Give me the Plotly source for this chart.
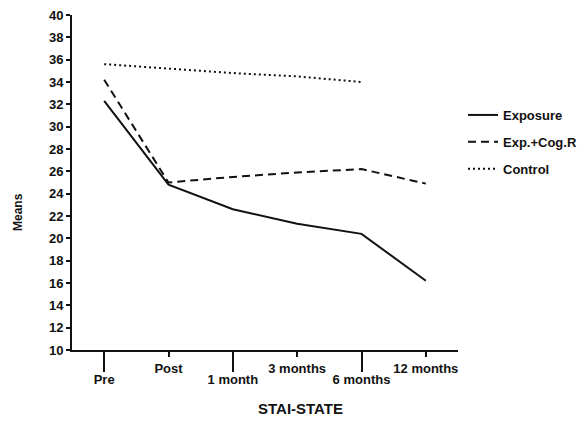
import plotly.graph_objects as go

categories = ["Pre", "Post", "1 month", "3 months", "6 months", "12 months"]
exposure = [32.3, 24.8, 22.6, 21.3, 20.4, 16.2]
exp_cog = [34.2, 25.0, 25.5, 25.9, 26.2, 24.9]
control = [35.6, 35.2, 34.8, 34.5, 34.0, None]
y_ticks = list(range(10, 41, 2))

FONT = "Liberation Sans"
BLACK = "#111111"
idx = list(range(len(categories)))

fig = go.Figure()
fig.add_trace(go.Scatter(x=idx, y=exposure, name="Exposure", mode="lines",
                         line=dict(color=BLACK, width=2), legendgroup="a"))
fig.add_trace(go.Scatter(x=idx, y=exp_cog, name="Exp.+Cog.R", mode="lines",
                         line=dict(color=BLACK, width=2, dash="8px,5px"), legendgroup="b"))
fig.add_trace(go.Scatter(x=idx, y=control, name="Control", mode="lines",
                         line=dict(color=BLACK, width=2, dash="2px,3px"), legendgroup="c"))
# invisible trace to activate overlay axis
fig.add_trace(go.Scatter(x=[0], y=[None], xaxis="x2", showlegend=False, hoverinfo="skip"))

tickfont = dict(family=FONT, size=13, color=BLACK, weight="bold")

fig.update_layout(
    width=581, height=424,
    margin=dict(l=72, r=123, t=15, b=74, autoexpand=False),
    paper_bgcolor="white", plot_bgcolor="white",
    showlegend=True,
    legend=dict(x=(463 - 72) / 386, xanchor="left", y=1 - (100 - 15) / 335, yanchor="top",
                font=dict(family=FONT, size=13, color=BLACK, weight="bold"),
                traceorder="grouped", tracegroupgap=7, itemwidth=30,
                bgcolor="rgba(0,0,0,0)"),
    xaxis=dict(range=[-0.5, 5.5], showgrid=False, zeroline=False,
               showline=True, linecolor=BLACK, linewidth=2,
               ticks="outside", ticklen=5, tickwidth=1.5, tickcolor=BLACK,
               tickvals=[1, 3, 5], ticktext=[categories[i] for i in [1, 3, 5]],
               tickfont=tickfont),
    xaxis2=dict(range=[-0.5, 5.5], overlaying="x", anchor="y", side="bottom",
                showgrid=False, zeroline=False, showline=False,
                ticks="outside", ticklen=21, tickwidth=1.5, tickcolor=BLACK,
                tickvals=[0, 2, 4], ticktext=[categories[i] for i in [0, 2, 4]],
                tickfont=tickfont, ticklabelstandoff=-4),
    yaxis=dict(range=[10, 40], showgrid=False, zeroline=False,
               showline=True, linecolor=BLACK, linewidth=2,
               ticks="outside", ticklen=4, tickwidth=1.5, tickcolor=BLACK,
               tickvals=y_ticks, tickfont=tickfont),
    annotations=[
        dict(text="Means", xref="paper", yref="paper", x=(18 - 72) / 386, y=(350 - 212) / 335,
             textangle=-90, showarrow=False, xanchor="center", yanchor="middle",
             font=dict(family=FONT, size=12, color=BLACK, weight="bold")),
        dict(text="STAI-STATE", xref="paper", yref="paper", x=(300 - 72) / 386, y=(350 - 408) / 335,
             showarrow=False, xanchor="center", yanchor="middle",
             font=dict(family=FONT, size=15, color=BLACK, weight="bold")),
    ],
)

fig.write_html("out.html")
